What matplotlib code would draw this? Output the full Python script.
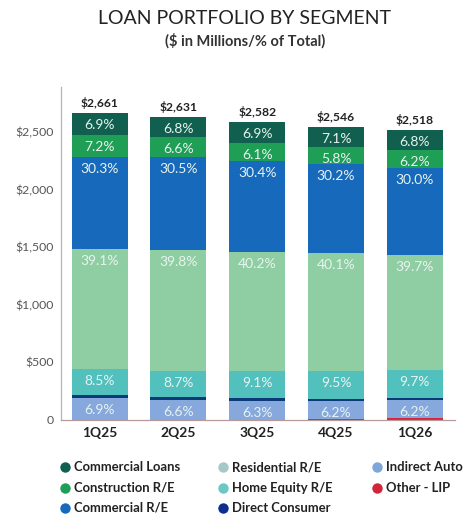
import matplotlib
matplotlib.use("Agg")
import matplotlib.pyplot as plt
from matplotlib.lines import Line2D
import numpy as np

plt.rcParams['font.family'] = ['Lato', 'DejaVu Sans']

quarters = ["1Q25", "2Q25", "3Q25", "4Q25", "1Q26"]
totals = [2661, 2631, 2582, 2546, 2518]

# share of total loans, % (stacked bottom to top)
other_lip = [0.1, 0.1, 0.1, 0.2, 0.5]
indirect_auto = [6.9, 6.6, 6.3, 6.2, 6.2]
direct_consumer = [1.0, 0.9, 0.9, 0.9, 0.9]
home_equity = [8.5, 8.7, 9.1, 9.5, 9.7]
residential = [39.1, 39.8, 40.2, 40.1, 39.7]
commercial_re = [30.3, 30.5, 30.4, 30.2, 30.0]
construction = [7.2, 6.6, 6.1, 5.8, 6.2]
commercial_loans = [6.9, 6.8, 6.9, 7.1, 6.8]

segments = [
    ("Other - LIP", other_lip, "#d1263a", False),
    ("Indirect Auto", indirect_auto, "#86a8dc", True),
    ("Direct Consumer", direct_consumer, "#0b3a78", False),
    ("Home Equity R/E", home_equity, "#52c1be", True),
    ("Residential R/E", residential, "#8fcda2", True),
    ("Commercial R/E", commercial_re, "#1769bb", True),
    ("Construction R/E", construction, "#1f9e56", True),
    ("Commercial Loans", commercial_loans, "#11604f", True),
]
legend_colors = {
    "Commercial Loans": "#11604f",
    "Construction R/E": "#1f9e56",
    "Commercial R/E": "#1769bb",
    "Residential R/E": "#a6c9c8",
    "Home Equity R/E": "#6cc8c4",
    "Direct Consumer": "#0b2f8e",
    "Indirect Auto": "#7ea7d8",
    "Other - LIP": "#d1263a",
}
legend_columns = [
    ["Commercial Loans", "Construction R/E", "Commercial R/E"],
    ["Residential R/E", "Home Equity R/E", "Direct Consumer"],
    ["Indirect Auto", "Other - LIP"],
]

W, H = 471, 521
fig = plt.figure(figsize=(W / 100, H / 100), dpi=100)
ax = fig.add_axes([0.1295, 0.194, 0.8365, 0.639])

x = np.arange(len(quarters))
tot = np.array(totals, dtype=float)
bottom = np.zeros(len(quarters))
for name, pct, color, labeled in segments:
    vals = tot * np.array(pct) / 100.0
    ax.bar(x, vals, bottom=bottom, width=0.71, color=color, linewidth=0)
    top = bottom + vals
    if labeled:
        for xi, t, p in zip(x, top, pct):
            ax.annotate(f"{p:.1f}%", (xi, t), xytext=(0, -12),
                        textcoords="offset pixels", ha="center", va="center",
                        fontsize=10, color="#e8f3ef")
    bottom = top

for xi, t in zip(x, totals):
    ax.annotate(f"${t:,}", (xi, t), xytext=(0, 4), textcoords="offset pixels",
                ha="center", va="bottom", fontsize=8.7, fontweight="bold",
                color="#222222")

ax.set_xlim(-0.49, 4.51)
ax.set_ylim(0, 2890)
ax.set_yticks([0, 500, 1000, 1500, 2000, 2500])
ax.set_yticklabels(["0", "$500", "$1,000", "$1,500", "$2,000", "$2,500"])
ax.set_xticks(x)
ax.set_xticklabels(quarters, fontweight="bold")
ax.tick_params(axis="y", length=0, pad=5, labelsize=8.8, labelcolor="#555555")
ax.tick_params(axis="x", length=0, pad=5, labelsize=10, labelcolor="#222222")
for s in ["top", "right"]:
    ax.spines[s].set_visible(False)
ax.spines["left"].set_color("#b5b5b5")
ax.spines["bottom"].set_color("#b89a9a")
ax.spines["left"].set_linewidth(0.9)
ax.spines["bottom"].set_linewidth(0.9)

fig.text(245 / W, 1 - 18 / H, "LOAN PORTFOLIO BY SEGMENT", ha="center",
         va="center", fontsize=14, color="#222222")
fig.text(245 / W, 1 - 41 / H, "($ in Millions/% of Total)", ha="center",
         va="center", fontsize=10.5, fontweight="bold", color="#333333")

# legend laid out in three columns of dot + label
col_marker_x = [65, 223, 377]
row_y = [467, 488, 508]
for cx, names in zip(col_marker_x, legend_columns):
    for ry, name in zip(row_y, names):
        fig.add_artist(Line2D([cx / W], [1 - ry / H], transform=fig.transFigure,
                              marker="o", linestyle="none", markersize=7.5,
                              markerfacecolor=legend_colors[name],
                              markeredgecolor="none"))
        fig.text((cx + 9) / W, 1 - ry / H, name, ha="left", va="center",
                 fontsize=9.4, fontweight="bold", color="#222222")

fig.savefig("out.png", dpi=100)
